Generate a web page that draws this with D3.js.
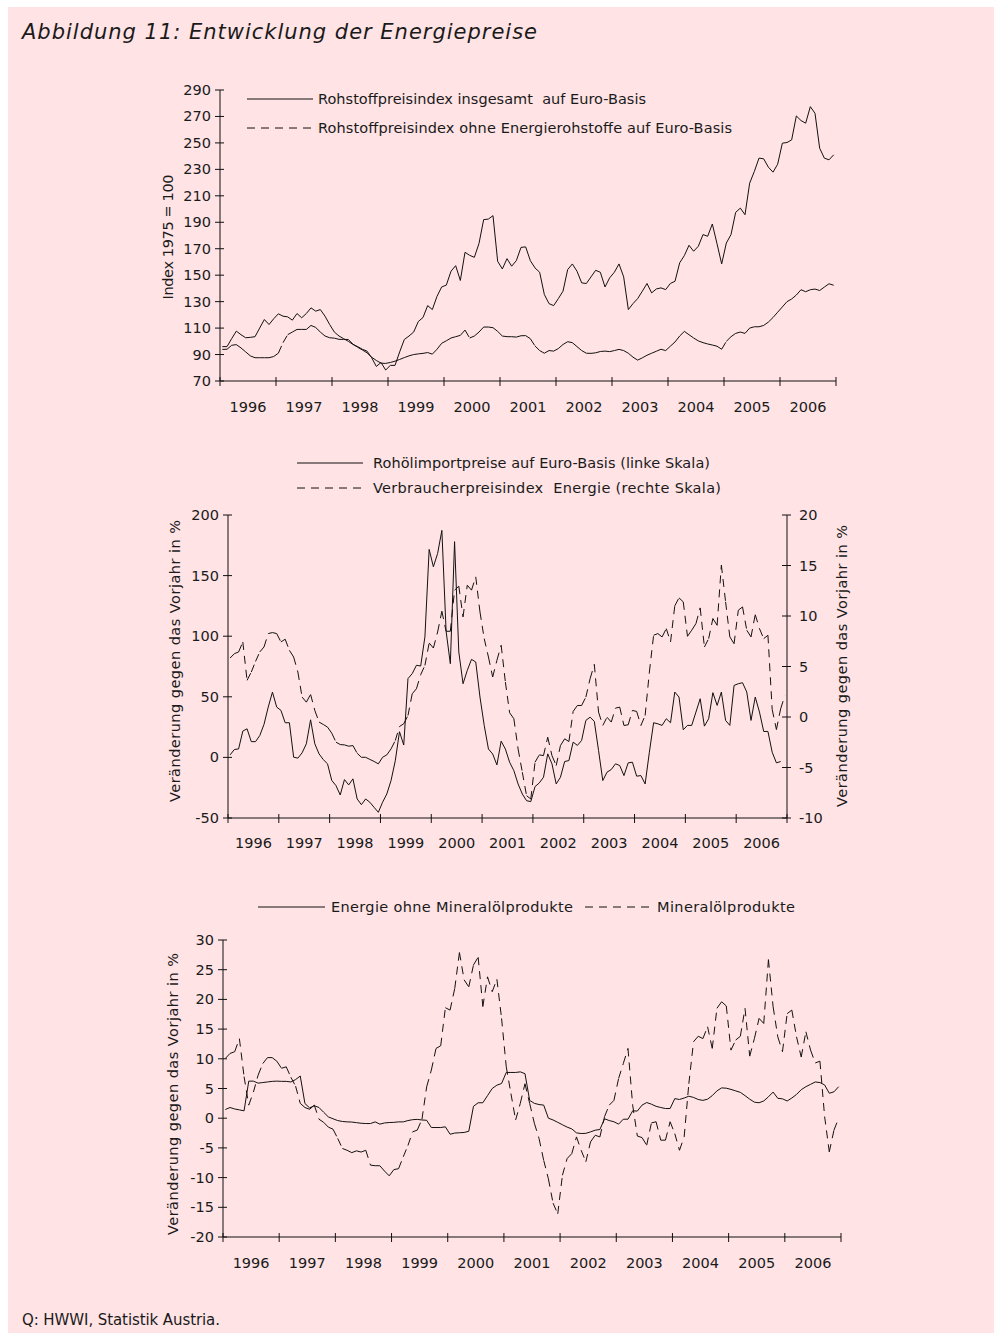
<!DOCTYPE html>
<html>
<head>
<meta charset="utf-8">
<script src="https://cdn.jsdelivr.net/npm/d3@7/dist/d3.min.js"></script>
<style>
html,body{margin:0;padding:0;background:#fff;}
svg{display:block;}
text{font-family:"DejaVu Sans",sans-serif;fill:#1a1a1a;white-space:pre;}
</style>
</head>
<body>
<svg id="chart" width="997" height="1333"></svg>
<script>
// ---------------- DATA ----------------
const years = ["1996","1997","1998","1999","2000","2001","2002","2003","2004","2005","2006"];

const ticks1 = [70,90,110,130,150,170,190,210,230,250,270,290];
const ticks2L = [-50,0,50,100,150,200];
const ticks2R = [-10,-5,0,5,10,15,20];
const ticks3 = [-20,-15,-10,-5,0,5,10,15,20,25,30];

// Rohstoffpreisindex insgesamt auf Euro-Basis (Index 1975=100)
const rohIns = [96,96,102,107.7,105,102.7,103,103.5,110,116.5,112.7,117,
120.8,119,118.5,116,121,117.8,121,125.3,122.8,124,119,112.7,
107,104,102,100,97.6,96,94,92.6,87.6,81,84,78.3,
81.8,81.8,92,101.4,104,107,115,118,127,124,134,141.1,
142.5,153,157.2,146,167.3,165,163.5,174,192,192.4,195,160.5,
154.7,162.5,156.8,161,171,171.4,161,155.5,152.2,135.4,128.5,127,
132.3,137.9,154.2,158.5,153,144.2,143.7,148.7,153.7,152.2,141.1,148,
152.2,158.5,148.7,124,128.5,132.3,137.9,143.7,136.6,139.6,140.4,139.1,
143.7,145.4,159.3,164.8,172.6,168.1,171.9,180.7,179.4,188.7,173.8,158.5,
174.3,180.7,197.5,200.7,195.7,219.6,228.4,238.5,238,231.7,227.9,233.9,
249.8,250.3,252.3,270.4,266.9,264.9,277.4,272.4,246,238.5,237.2,241];

// Rohstoffpreisindex ohne Energierohstoffe auf Euro-Basis
const rohOhne = [93.9,94,97,97.5,95,92,89,87.6,87.6,87.6,87.6,88.5,
91,99,105,107,109,109,109,112,110.5,107,104,102.7,
102.4,101.5,101.4,101.4,97.8,95.5,93.5,91.3,88,85.5,83.5,83.3,
84,85,86.3,87.7,89,90,90.5,90.9,91.5,90.3,94,98.5,
100.4,102.5,103.5,104.5,108.5,102.5,104,107,110.8,110.8,110.3,107.5,
104,103.5,103.5,103.2,104.2,104.3,102,96.5,93,91,93,92.6,
94.5,97.6,99.7,99,96,93,91,90.9,91.3,92.3,92.6,92.2,
93,93.9,93,91,88,85.8,87.5,89.5,91,92.5,94,93,
96.3,99.5,104,107.5,105,102.5,100.3,99,98,97.2,96.3,94,
100,103.5,106,107,106,110,111,111,112,114.5,118,122,
126,130,132,135,139,137.5,139,139.5,138.4,141,143.5,142.4];

// Rohölimportpreise auf Euro-Basis, Veränderung gg. Vorjahr in % (linke Skala)
const oelImport = [2.1,6.5,7,21.7,23.6,13,13,18,27.2,41.5,53.9,41.5,
38.8,28.6,28.6,0.2,-0.6,3.8,11.2,31,11.2,2.9,-1.8,-5.3,
-19,-23.3,-31,-18.3,-22.7,-17.7,-34.3,-39,-34.3,-37,-41.2,-45.3,
-37,-30.2,-19.1,-2.8,21.2,10.2,65,69.1,76,75.4,99.4,171.6,
157.3,168.3,187.3,104.1,77.3,178,87,60.8,71.8,80.9,78.7,49.8,
26.4,6.9,2.8,-6.2,13.4,6.9,-4,-10.9,-21.9,-30.2,-35.7,-36.5,
-24.1,-21.1,-16.4,2.9,-5.3,-21.9,-16.4,-3.4,-2.6,12.6,9.9,14,
30.5,33.2,29.7,5.7,-19.1,-12.2,-10,-5.3,-6.7,-15,-4.5,-4,
-15.5,-15,-21.9,4.3,28.6,27.7,26.4,31.9,28.6,53.9,49.8,22.8,
26.4,26.4,37.4,48.4,25.8,31.9,53.4,42.9,53.9,30.5,26.4,59.4,
60.8,61.6,53.9,30.5,49.8,37.4,21.4,21.4,4.3,-4.5,-3.4];

// Verbraucherpreisindex Energie, Veränderung gg. Vorjahr in % (rechte Skala)
const vpiEnergie = [5.84,6.27,6.44,7.43,3.63,4.45,5.5,6.44,6.93,8.26,8.36,8.26,
7.43,7.7,6.6,5.94,4.45,1.97,1.47,2.24,0.65,-0.5,-0.74,-1,
-1.6,-2.49,-2.73,-2.76,-2.89,-2.83,-3.59,-3.99,-3.99,-4.2,-4.4,-4.64,
-3.99,-3.75,-3.16,-2.33,-0.94,-0.67,0.15,2.3,2.8,4.19,5.11,7.33,
6.83,8.42,10.47,8.49,8.49,12.56,12.95,9.91,13.05,12.56,13.88,10.4,
7.76,5.94,3.96,5.61,7.1,3.46,0.42,-0.17,-3.16,-5.47,-7.79,-8.12,
-4.48,-3.75,-3.82,-2,-3.82,-4.81,-2.83,-2.16,-2.43,0.55,1.14,1.14,
1.97,3.79,5.21,0.48,-0.84,-0.02,-0.5,0.88,0.98,-0.84,-0.77,0.65,
0.55,-0.84,0.15,4.45,8.09,8.26,7.93,8.75,7.43,11,11.8,11.4,
7.99,8.59,9.25,10.8,6.93,7.76,9.75,9.08,15.04,11.4,7.93,7.26,
10.57,10.9,8.59,7.93,10.14,8.75,7.76,8.09,0.75,-1.24,0.81,2.14];

// Energie ohne Mineralölprodukte, Veränderung gg. Vorjahr in %
const energieOhne = [1.46,1.8,1.55,1.4,1.24,6.24,6.24,5.9,6,6.1,6.2,6.24,
6.2,6.2,6.1,6.5,7.1,2.47,1.74,2.1,1.8,1,0.22,-0.1,
-0.4,-0.55,-0.62,-0.65,-0.75,-0.85,-0.9,-0.9,-0.62,-1,-0.8,-0.73,
-0.7,-0.62,-0.62,-0.4,-0.25,-0.2,-0.3,-0.35,-1.57,-1.57,-1.57,-1.45,
-2.7,-2.5,-2.45,-2.4,-2.2,2,2.6,2.6,3.8,5,5.56,5.84,
7.7,7.7,7.7,7.8,7.5,3,2.5,2.3,2.2,0,-0.3,-0.7,
-1.1,-1.5,-1.8,-2.47,-2.58,-2.55,-2.3,-2.02,-1.9,-0.1,-0.4,-0.6,
-1,-0.17,-0.17,1.24,1.2,2.2,2.64,2.36,2,1.8,1.63,1.63,
3.3,3.15,3.4,3.7,3.5,3.15,3,3.2,3.8,4.6,5.1,5.05,
4.85,4.6,4.35,3.8,3.2,2.7,2.6,2.9,3.6,4.4,3.35,3.26,
2.9,3.4,4,4.8,5.3,5.7,6.1,6,5.6,4.2,4.44,5.3];

// Mineralölprodukte, Veränderung gg. Vorjahr in %
const mineraloel = [10.06,10.9,11.2,13.4,7,2.2,4.4,7.25,9.2,10.2,10.2,9.6,
8.4,8.65,6.9,5.4,2.5,1.8,1.5,2.2,-0.17,-0.7,-1.5,-1.85,
-3.4,-5.1,-5.4,-5.8,-5.5,-5.7,-5.4,-7.9,-8,-8,-8.9,-9.7,
-8.65,-8.5,-6.5,-4.6,-2.3,-2,-0.17,5.28,8.1,11.74,12.2,18.6,
18.2,21.85,27.9,23.3,22.1,25.8,27.1,18.8,23.8,21.3,23.4,16.8,
8.65,4.15,-0.3,2.5,5.8,2.5,-0.84,-3.4,-7.1,-10.2,-14.3,-16.1,
-9.6,-6.8,-5.96,-3.15,-5.4,-7.35,-3.99,-2.87,-3.15,0.28,2.2,3,
6.7,9.2,11.74,2.2,-3,-3.26,-4.55,-0.8,-0.6,-3.7,-3.7,-0.6,
-2.6,-5.4,-3.15,5.8,12.87,13.8,13.4,15.4,11.74,18.5,19.6,18.9,
11.46,13.15,13.8,18.5,10.45,13.4,16.8,15.95,26.7,18.76,13.7,11.2,
17.6,18.2,13.7,10.3,14.55,11.46,9.3,9.6,0.28,-5.67,-2,0];

const monthKeys = years.flatMap(y => d3.range(12).map(m => y + "-" + (m + 1)));

// ---------------- DRAWING ----------------
const svg = d3.select("#chart");
const BG = "#FFE3E5";
const INK = "#111";
const FS = 14.5;

svg.append("rect").attr("x", 8).attr("y", 7).attr("width", 986).attr("height", 1326).attr("fill", BG);

svg.append("text").attr("x", 22).attr("y", 39)
  .style("font-size", "21px").style("font-style", "italic")
  .attr("textLength", 515).attr("lengthAdjust", "spacing")
  .text("Abbildung 11: Entwicklung der Energiepreise");

svg.append("text").attr("x", 22).attr("y", 1325)
  .style("font-size", "15px")
  .attr("textLength", 198).attr("lengthAdjust", "spacing")
  .text("Q: HWWI, Statistik Austria.");

function seriesLine(g, xBand, yScale, values, dashed) {
  const pts = values.map((v, i) => [xBand(monthKeys[i]) + xBand.bandwidth() / 2, yScale(v)]);
  const line = d3.line();
  if (!dashed) {
    g.append("path").attr("d", line(pts)).attr("fill", "none")
      .attr("stroke", INK).attr("stroke-width", 1).attr("stroke-linejoin", "round");
  } else {
    // dash pattern restarts on each segment (as in the original export)
    for (let i = 0; i < pts.length - 1; i++) {
      g.append("path").attr("d", line([pts[i], pts[i + 1]])).attr("fill", "none")
        .attr("stroke", INK).attr("stroke-width", 1).attr("stroke-dasharray", "8,6");
    }
  }
}

function xAxis(g, xBand, yearBand, yPos, labelY) {
  g.append("line").attr("x1", xBand.range()[0]).attr("x2", xBand.range()[1])
    .attr("y1", yPos).attr("y2", yPos).attr("stroke", INK).attr("stroke-width", 1);
  const bounds = years.map(y => yearBand(y)).concat([yearBand.range()[1]]);
  bounds.forEach(bx => {
    g.append("line").attr("x1", bx).attr("x2", bx).attr("y1", yPos - 4).attr("y2", yPos + 5)
      .attr("stroke", INK).attr("stroke-width", 1);
  });
  years.forEach(y => {
    g.append("text").attr("x", yearBand(y) + yearBand.bandwidth() / 2).attr("y", labelY)
      .attr("text-anchor", "middle").style("font-size", FS + "px").text(y);
  });
}

function yAxis(g, yScale, ticks, xPos, side) {
  const r = yScale.range();
  g.append("line").attr("x1", xPos).attr("x2", xPos).attr("y1", r[0]).attr("y2", r[1])
    .attr("stroke", INK).attr("stroke-width", 1);
  ticks.forEach(t => {
    const y = yScale(t);
    g.append("line").attr("x1", xPos - 5).attr("x2", xPos + 4).attr("y1", y).attr("y2", y)
      .attr("stroke", INK).attr("stroke-width", 1);
    g.append("text")
      .attr("x", side === "left" ? xPos - 9 : xPos + 12)
      .attr("y", y + 5)
      .attr("text-anchor", side === "left" ? "end" : "start")
      .style("font-size", FS + "px").text(t);
  });
}

function yTitle(g, x, y, txt, len) {
  const t = g.append("text").attr("transform", `translate(${x},${y}) rotate(-90)`)
    .attr("text-anchor", "middle").attr("dy", "0.35em")
    .style("font-size", FS + "px").text(txt);
  if (len) t.attr("textLength", len).attr("lengthAdjust", "spacing");
}

function legendItem(g, x1, x2, y, dashed, txt, tx, len) {
  g.append("line").attr("x1", x1).attr("x2", x2).attr("y1", y).attr("y2", y)
    .attr("stroke", INK).attr("stroke-width", 1)
    .attr("stroke-dasharray", dashed ? "8,6" : null);
  g.append("text").attr("x", tx).attr("y", y + 5).style("font-size", FS + "px")
    .attr("textLength", len).attr("lengthAdjust", "spacing").text(txt);
}

// ---- Chart 1 ----
{
  const g = svg.append("g");
  const X0 = 220, X1 = 836;
  const xBand = d3.scaleBand().domain(monthKeys).range([X0, X1]);
  const yearBand = d3.scaleBand().domain(years).range([X0, X1]);
  const y = d3.scaleLinear().domain([70, 290]).range([381, 90]);
  yAxis(g, y, ticks1, X0, "left");
  xAxis(g, xBand, yearBand, 381, 412);
  yTitle(g, 168, 237, "Index 1975 = 100", 125);
  seriesLine(g, xBand, y, rohOhne, true);
  seriesLine(g, xBand, y, rohIns, false);
  legendItem(g, 247, 313, 99, false, "Rohstoffpreisindex insgesamt  auf Euro-Basis", 318, 328);
  legendItem(g, 247, 313, 128, true, "Rohstoffpreisindex ohne Energierohstoffe auf Euro-Basis", 318, 414);
}

// ---- Chart 2 ----
{
  const g = svg.append("g");
  const X0 = 228, X1 = 787;
  const xBand = d3.scaleBand().domain(monthKeys).range([X0, X1]);
  const yearBand = d3.scaleBand().domain(years).range([X0, X1]);
  const yL = d3.scaleLinear().domain([-50, 200]).range([818, 515]);
  const yR = d3.scaleLinear().domain([-10, 20]).range([818, 515]);
  yAxis(g, yL, ticks2L, X0, "left");
  yAxis(g, yR, ticks2R, X1, "right");
  xAxis(g, xBand, yearBand, 818, 848);
  yTitle(g, 175, 661, "Veränderung gegen das Vorjahr in %", 282);
  yTitle(g, 842, 666, "Veränderung gegen das Vorjahr in %", 282);
  seriesLine(g, xBand, yR, vpiEnergie, true);
  seriesLine(g, xBand, yL, oelImport, false);
  legendItem(g, 297, 363, 463, false, "Rohölimportpreise auf Euro-Basis (linke Skala)", 373, 337);
  legendItem(g, 297, 363, 488, true, "Verbraucherpreisindex  Energie (rechte Skala)", 373, 348);
}

// ---- Chart 3 ----
{
  const g = svg.append("g");
  const X0 = 223, X1 = 841;
  const xBand = d3.scaleBand().domain(monthKeys).range([X0, X1]);
  const yearBand = d3.scaleBand().domain(years).range([X0, X1]);
  const y = d3.scaleLinear().domain([-20, 30]).range([1237, 940]);
  yAxis(g, y, ticks3, X0, "left");
  xAxis(g, xBand, yearBand, 1237, 1268);
  yTitle(g, 173, 1094, "Veränderung gegen das Vorjahr in %", 282);
  seriesLine(g, xBand, y, mineraloel, true);
  seriesLine(g, xBand, y, energieOhne, false);
  legendItem(g, 258, 325, 907, false, "Energie ohne Mineralölprodukte", 331, 242);
  legendItem(g, 585, 652, 907, true, "Mineralölprodukte", 657, 138);
}
</script>
</body>
</html>
